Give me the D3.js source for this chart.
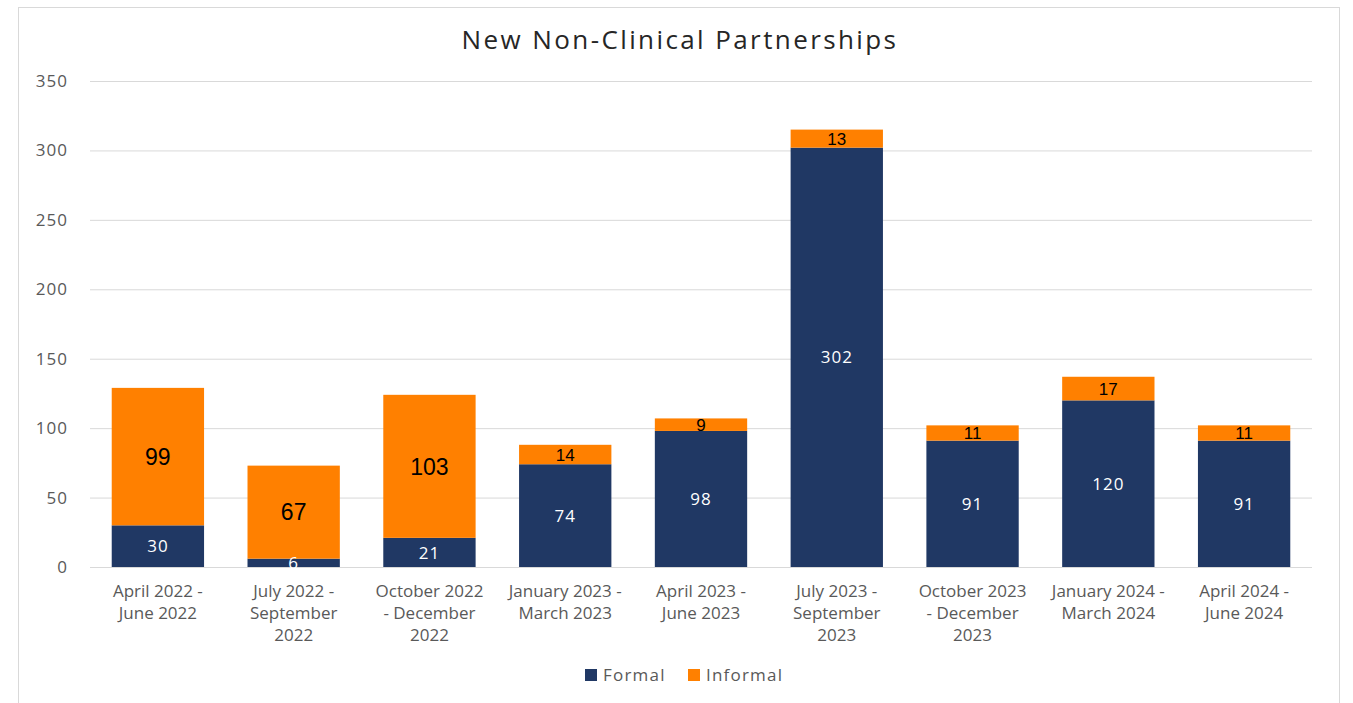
<!DOCTYPE html>
<html><head><meta charset="utf-8">
<script src="https://cdn.jsdelivr.net/npm/d3@7"></script>
<style>body{margin:0;background:#fff}svg{display:block}</style>
</head><body>
<svg id="c" width="1353" height="703"></svg>
<script>
const categories = ["April 2022 - June 2022","July 2022 - September 2022","October 2022 - December 2022","January 2023 - March 2023","April 2023 - June 2023","July 2023 - September 2023","October 2023 - December 2023","January 2024 - March 2024","April 2024 - June 2024"];
const categoryLines = [["April 2022 -","June 2022"],["July 2022 -","September","2022"],["October 2022","- December","2022"],["January 2023 -","March 2023"],["April 2023 -","June 2023"],["July 2023 -","September","2023"],["October 2023","- December","2023"],["January 2024 -","March 2024"],["April 2024 -","June 2024"]];
const formal = [30,6,21,74,98,302,91,120,91];
const informal = [99,67,103,14,9,13,11,17,11];
const seriesNames = ["Formal","Informal"];
const yTicks = [0,50,100,150,200,250,300,350];
const title = "New Non-Clinical Partnerships";

const colors = {Formal:"#203864", Informal:"#ff8000"};
const font = "'Open Sans', 'DejaVu Sans', sans-serif";
const svg = d3.select("#c");
const m = {left:90, right:1312, top:81, bottom:567};

svg.append("rect").attr("x",18.5).attr("y",7.5).attr("width",1321).attr("height",720)
  .attr("fill","#fff").attr("stroke","#d9d9d9");

const data = categories.map((c,i)=>({cat:c, Formal:formal[i], Informal:informal[i]}));
const x = d3.scaleBand().domain(categories).range([m.left,m.right]).paddingInner(0.32).paddingOuter(0.16);
const y = d3.scaleLinear().domain([0,350]).range([m.bottom,m.top]);

// gridlines
svg.append("g").selectAll("line").data(yTicks).join("line")
  .attr("x1",m.left).attr("x2",m.right)
  .attr("y1",d=>y(d)+0.5).attr("y2",d=>y(d)+0.5)
  .attr("stroke","#d9d9d9").attr("stroke-width",1);

// y axis labels
const yAxis = d3.axisLeft(y).tickValues(yTicks).tickSize(0).tickPadding(0);
const gy = svg.append("g").attr("transform",`translate(${m.left-22},0)`).call(yAxis);
gy.select(".domain").remove();
gy.selectAll("text").attr("font-family",font).attr("font-size",17).attr("letter-spacing",1).attr("fill","#595959");

const stack = d3.stack().keys(seriesNames)(data);
const layers = svg.append("g").selectAll("g").data(stack).join("g")
  .attr("fill",d=>colors[d.key]);
layers.selectAll("rect").data(d=>d).join("rect")
  .attr("x",d=>x(d.data.cat)).attr("width",x.bandwidth())
  .attr("y",d=>y(d[1])).attr("height",d=>y(d[0])-y(d[1]));

// labels
stack.forEach(layer=>{
  svg.append("g").selectAll("text").data(layer).join("text")
    .attr("x",d=>x(d.data.cat)+x.bandwidth()/2)
    .attr("y",d=>(y(d[0])+y(d[1]))/2)
    .attr("dy","0.36em")
    .attr("text-anchor","middle")
    .attr("font-family",layer.key==="Formal"?font:"'Liberation Sans', Arial, sans-serif")
    .attr("font-size",d=>layer.key==="Formal"?17:((y(d[0])-y(d[1]))>60?23:17))
    .attr("letter-spacing",layer.key==="Formal"?1:0)
    .attr("fill",layer.key==="Formal"?"#ffffff":"#000000")
    .text(d=>d.data[layer.key]);
});

// x axis labels
const gx = svg.append("g");
categories.forEach((c,i)=>{
  const cx = x(c)+x.bandwidth()/2;
  const t = gx.append("text").attr("x",cx).attr("y",597)
    .attr("text-anchor","middle").attr("font-family",font).attr("font-size",17).attr("fill","#595959");
  categoryLines[i].forEach((ln,j)=>{
    t.append("tspan").attr("x",cx).attr("dy",j===0?0:22).text(ln);
  });
});

// title
svg.append("text").attr("x",680).attr("y",49).attr("text-anchor","middle")
  .attr("font-family",font).attr("font-size",26).attr("letter-spacing",2.4).attr("fill","#262626").text(title);

// legend
const lg = svg.append("g");
const legendX = [585,688];
seriesNames.forEach((s,i)=>{
  lg.append("rect").attr("x",legendX[i]).attr("y",669).attr("width",12).attr("height",12).attr("fill",colors[s]);
  lg.append("text").attr("x",legendX[i]+18).attr("y",681).attr("font-family",font).attr("font-size",17)
    .attr("letter-spacing",1.2).attr("fill","#595959").text(s);
});
</script>
</body></html>
